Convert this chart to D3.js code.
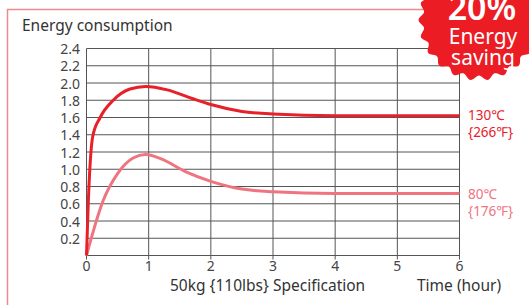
<!DOCTYPE html>
<html>
<head>
<meta charset="utf-8">
<script src="https://cdn.jsdelivr.net/npm/d3@7"></script>
<style>
  html, body { margin: 0; padding: 0; background: #fff; overflow: hidden; }
  text { font-family: "Noto Sans", sans-serif; }
</style>
</head>
<body>
<script>
// data
let hours = [0, 1, 2, 3, 4, 5, 6]
let yTicks = [0.2, 0.4, 0.6, 0.8, 1.0, 1.2, 1.4, 1.6, 1.8, 2.0, 2.2, 2.4]

let hotX = [0, 0.03, 0.1, 0.22, 0.43, 0.7, 0.95, 1.3, 1.7, 2.0, 2.5, 3.0, 4.0, 5.0, 6.0]
let hotY = [0, 0.64, 1.38, 1.6, 1.8, 1.93, 1.96, 1.92, 1.82, 1.75, 1.67, 1.64, 1.62, 1.62, 1.62]

let warmX = [0, 0.1, 0.27, 0.5, 0.75, 0.95, 1.2, 1.6, 2.0, 2.5, 3.0, 4.0, 5.0, 6.0]
let warmY = [0, 0.26, 0.64, 0.95, 1.13, 1.17, 1.12, 0.97, 0.86, 0.77, 0.74, 0.72, 0.72, 0.72]

let hotLabel = ["130\u2103", "{266\u2109}"]
let warmLabel = ["80\u2103", "{176\u2109}"]

let red = '#e8202a'
let pink = '#f07480'
let grey = '#555'

let svg = d3.select('body')
    .append('svg')
    .attr('width', 529)
    .attr('height', 305)

// outer frame
svg.append('rect')
    .attr('x', 7.5)
    .attr('y', 9.5)
    .attr('width', 600)
    .attr('height', 400)
    .style('fill', 'none')
    .style('stroke', '#f08890')
    .style('stroke-width', 1.5)

svg.append('text')
    .attr('x', 22)
    .attr('y', 31)
    .style('font-size', '15.5px')
    .style('fill', '#333')
    .text('Energy consumption')

let x = d3.scaleLinear().domain([0, 6]).range([86.5, 459.5])
let y = d3.scaleLinear().domain([0, 2.4]).range([255.5, 48.5])

// grid
svg.append('g')
    .selectAll('line')
    .data(hours)
    .join('line')
    .attr('x1', d => x(d))
    .attr('x2', d => x(d))
    .attr('y1', y(2.4))
    .attr('y2', y(0) + 4)
    .style('stroke', grey)
    .style('stroke-width', 1)

svg.append('g')
    .selectAll('line')
    .data([0].concat(yTicks))
    .join('line')
    .attr('x1', x(0))
    .attr('x2', x(6))
    .attr('y1', d => y(d))
    .attr('y2', d => y(d))
    .style('stroke', grey)
    .style('stroke-width', 1)

svg.append('g')
    .selectAll('text')
    .data(yTicks)
    .join('text')
    .attr('x', 80)
    .attr('y', d => y(d) + 5.5)
    .attr('text-anchor', 'end')
    .style('font-size', '14px')
    .style('fill', '#444')
    .text(d => d.toFixed(1))

svg.append('g')
    .selectAll('text')
    .data(hours)
    .join('text')
    .attr('x', d => x(d))
    .attr('y', 270.5)
    .attr('text-anchor', 'middle')
    .style('font-size', '14px')
    .style('fill', '#444')
    .text(d => d)

svg.append('text')
    .attr('x', 170)
    .attr('y', 291)
    .style('font-size', '15.5px')
    .style('fill', '#333')
    .text('50kg {110lbs} Specification')

svg.append('text')
    .attr('x', 417)
    .attr('y', 291)
    .style('font-size', '15.5px')
    .style('fill', '#333')
    .text('Time (hour)')

// curves
let line = d3.line()
    .x(d => x(d[0]))
    .y(d => y(d[1]))
    .curve(d3.curveMonotoneX)

svg.append('path')
    .datum(d3.zip(warmX, warmY))
    .attr('d', line)
    .style('fill', 'none')
    .style('stroke', pink)
    .style('stroke-width', 3)

svg.append('path')
    .datum(d3.zip(hotX, hotY))
    .attr('d', line)
    .style('fill', 'none')
    .style('stroke', red)
    .style('stroke-width', 3)

svg.append('g')
    .selectAll('text')
    .data(hotLabel)
    .join('text')
    .attr('x', 468)
    .attr('y', (d, i) => 120 + i * 17)
    .style('font-size', '13.5px')
    .style('fill', red)
    .text(d => d)

svg.append('g')
    .selectAll('text')
    .data(warmLabel)
    .join('text')
    .attr('x', 468)
    .attr('y', (d, i) => 199 + i * 17)
    .style('font-size', '13.5px')
    .style('fill', pink)
    .text(d => d)

// badge: scalloped circle
let cx = 479, cy = 20, r0 = 58
let bumps = 22
let pts = d3.range(0, 361).map(a => {
    let t = a / 360 * 2 * Math.PI
    let r = r0 + 2.5 * Math.cos(t * bumps)
    return [cx + r * Math.cos(t), cy + r * Math.sin(t)]
})
svg.append('path')
    .attr('d', d3.line().curve(d3.curveLinearClosed)(pts))
    .style('fill', '#ec1c24')

svg.append('text')
    .attr('x', 482)
    .attr('y', 20)
    .attr('text-anchor', 'middle')
    .style('font-size', '34px')
    .style('font-weight', '600')
    .style('fill', '#fff')
    .text('20%')

svg.append('text')
    .attr('x', 483)
    .attr('y', 44)
    .attr('text-anchor', 'middle')
    .style('font-size', '21px')
    .style('fill', '#fff')
    .text('Energy')

svg.append('text')
    .attr('x', 483)
    .attr('y', 65)
    .attr('text-anchor', 'middle')
    .style('font-size', '21px')
    .style('fill', '#fff')
    .text('saving')
</script>
</body>
</html>
